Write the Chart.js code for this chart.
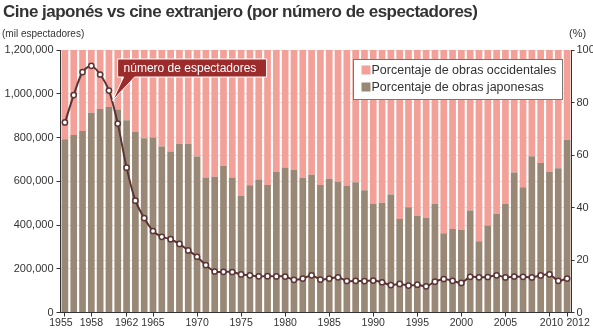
<!DOCTYPE html>
<html>
<head>
<meta charset="utf-8">
<script src="https://cdn.jsdelivr.net/npm/chart.js@4"></script>
<style>
  html, body { margin: 0; padding: 0; background: #fff; }
  #wrap { position: relative; width: 593px; height: 330px; font-family: "Liberation Sans", Arial, sans-serif; color: #333; }
  #title { position: absolute; left: 3px; top: 2px; font-size: 17px; font-weight: bold; letter-spacing: -0.5px; white-space: nowrap; }
  .unit { position: absolute; top: 28px; font-size: 10px; }
  canvas { position: absolute; left: 0; top: 0; }
</style>
</head>
<body>
<div id="wrap">
  <canvas id="cine-chart" width="593" height="330"></canvas>
  <div id="title">Cine japonés vs cine extranjero (por número de espectadores)</div>
  <div class="unit" style="left:2px">(mil espectadores)</div>
  <div class="unit" style="left:569px; font-size:11px; top:27px">(%)</div>
</div>
<script>
// Data

const years = [];
for (let y = 1955; y <= 2012; y++) years.push(String(y));

const shownYears = ["1955", "1958", "1962", "1965", "1970", "1975", "1980", "1985",
  "1990", "1995", "2000", "2005", "2010", "2012"];

// share of japanese films (%)
const japanesePct = [
  66.0, 67.6, 69.1, 76.1, 77.5, 78.3, 77.3, 73.2, 68.9, 66.4,
  66.7, 63.2, 61.3, 64.3, 64.2, 59.4, 51.4, 51.7, 55.9, 51.4,
  44.4, 48.5, 50.7, 48.6, 53.5, 55.2, 54.4, 51.2, 52.5, 48.6,
  51.0, 49.8, 48.2, 49.6, 46.6, 41.3, 41.8, 45.0, 35.6, 40.1,
  36.9, 36.1, 41.4, 30.2, 31.8, 31.5, 38.9, 27.1, 33.1, 37.5,
  41.3, 53.3, 47.7, 59.5, 57.0, 53.5, 55.0, 65.8
];

// share of western films (%)
const westernPct = japanesePct.map(v => Math.round((100 - v) * 10) / 10);

// spectators (thousands)
const spectators = [
  868912, 993875, 1098882, 1127452, 1088111, 1014364, 863430, 662279, 511121, 431454,
  372676, 345811, 335067, 313398, 283980, 254799, 216754, 187381, 185738, 185234,
  174020, 170019, 165155, 166042, 165088, 164422, 149450, 155280, 170043, 150527,
  155130, 160759, 143935, 144825, 143573, 146000, 138330, 125600, 130720, 122990,
  127040, 119575, 140719, 153102, 144762, 135390, 163280, 160767, 162347, 170092,
  160453, 164585, 163193, 160491, 169297, 174358, 144726, 155159
];

const leftTicks = [0, 200000, 400000, 600000, 800000, 1000000, 1200000];
const rightTicks = [0, 20, 40, 60, 80, 100];

const brown = "#9a8876";
const pink = "#f2a098";
const lineColor = "#5b3535";
const textColor = "#333";
const fontFamily = "'Liberation Sans', Arial, sans-serif";

// crowded year labels at the edges get pushed outwards a bit
const labelNudge = { "1955": -4, "2010": 2, "2012": 11 };

// Legend, callout and year labels drawn on the canvas
const overlayPlugin = {
  id: "overlay",
  afterDatasetsDraw(chart) {
    const ctx = chart.ctx;
    const area = chart.chartArea;
    const xs = chart.scales.x;
    const ys = chart.scales.y;

    // callout "número de espectadores"
    const x1 = xs.getPixelForValue(5), y1 = ys.getPixelForValue(spectators[5]);
    const x2 = xs.getPixelForValue(6), y2 = ys.getPixelForValue(spectators[6]);
    const tipX = x1 + (x2 - x1) * 0.3 + 1;
    const tipY = y1 + (y2 - y1) * 0.3;
    const bx = tipX + 5, by = area.top + 9, bw = 149, bh = 18;
    ctx.save();
    ctx.fillStyle = "#9c2b2b";
    ctx.strokeStyle = "#fff";
    ctx.lineWidth = 1;
    ctx.beginPath();
    ctx.moveTo(bx, by);
    ctx.lineTo(bx + bw, by);
    ctx.lineTo(bx + bw, by + bh);
    ctx.lineTo(bx + 17, by + bh);
    ctx.lineTo(tipX, tipY);
    ctx.lineTo(bx + 6, by + bh);
    ctx.lineTo(bx, by + bh);
    ctx.closePath();
    ctx.fill();
    ctx.stroke();
    ctx.fillStyle = "#fff";
    ctx.font = "12px " + fontFamily;
    ctx.textBaseline = "middle";
    ctx.fillText("número de espectadores", bx + 6, by + bh / 2 + 1);

    // legend box
    const lx = 353.5, ly = 59.5, lw = 209, lh = 40;
    ctx.fillStyle = "#fff";
    ctx.strokeStyle = "#777";
    ctx.fillRect(lx, ly, lw, lh);
    ctx.strokeRect(lx, ly, lw, lh);
    ctx.font = "12.5px " + fontFamily;
    const items = [["Porcentaje de obras occidentales", pink], ["Porcentaje de obras japonesas", brown]];
    items.forEach((it, i) => {
      const rowY = ly + 11 + i * 17;
      ctx.fillStyle = it[1];
      ctx.fillRect(lx + 8, rowY - 5, 9, 9);
      ctx.fillStyle = textColor;
      ctx.fillText(it[0], lx + 18, rowY);
    });

    // year labels
    ctx.font = "10.5px " + fontFamily;
    ctx.fillStyle = textColor;
    ctx.textAlign = "center";
    ctx.textBaseline = "top";
    years.forEach((y, i) => {
      if (!shownYears.includes(y)) return;
      const px = xs.getPixelForValue(i) + (labelNudge[y] || 0);
      ctx.fillText(y, px, area.bottom + 5);
    });
    ctx.restore();
  }
};

const ctx = document.getElementById("cine-chart").getContext("2d");

new Chart(ctx, {
  type: "bar",
  data: {
    labels: years,
    datasets: [
      {
        type: "line",
        label: "número de espectadores",
        data: spectators,
        yAxisID: "y",
        borderColor: lineColor,
        borderWidth: 2,
        pointBackgroundColor: "#fff",
        pointBorderColor: lineColor,
        pointBorderWidth: 1.5,
        pointRadius: 2.6,
        tension: 0.3,
        order: 0,
      },
      {
        label: "Porcentaje de obras japonesas",
        data: japanesePct,
        yAxisID: "y1",
        backgroundColor: brown,
        stack: "pct",
        barPercentage: 0.76,
        categoryPercentage: 1,
        order: 1,
      },
      {
        label: "Porcentaje de obras occidentales",
        data: westernPct,
        yAxisID: "y1",
        backgroundColor: pink,
        stack: "pct",
        barPercentage: 0.76,
        categoryPercentage: 1,
        order: 1,
      },
    ],
  },
  options: {
    responsive: false,
    animation: false,
    layout: { padding: { top: 50, left: 0, right: 0, bottom: 0 } },
    plugins: {
      legend: { display: false },
      tooltip: { enabled: false },
    },
    scales: {
      x: {
        stacked: true,
        offset: true,
        afterFit(scale) { scale.height = 17.5; },
        grid: {
          display: true,
          drawOnChartArea: false,
          offset: false,
          tickLength: 4,
          tickColor: (c) => (c.tick && shownYears.includes(years[c.tick.value]) ? textColor : "rgba(0,0,0,0)"),
        },
        border: { color: textColor },
        ticks: { display: false, autoSkip: false, maxRotation: 0 },
      },
      y: {
        position: "left",
        min: 0,
        max: 1200000,
        afterFit(scale) { scale.width = 60.5; },
        afterBuildTicks(scale) { scale.ticks = leftTicks.map(v => ({ value: v })); },
        grid: { color: "#e2e2e2", tickColor: textColor, tickLength: 4 },
        border: { color: textColor },
        ticks: {
          padding: 3,
          color: textColor,
          font: { size: 11, family: fontFamily },
          callback: v => v.toLocaleString("en-US"),
        },
      },
      y1: {
        position: "right",
        stacked: true,
        min: 0,
        max: 100,
        afterFit(scale) { scale.width = 21.5; },
        afterBuildTicks(scale) { scale.ticks = rightTicks.map(v => ({ value: v })); },
        grid: { color: "#e2e2e2", tickColor: textColor, tickLength: 3 },
        border: { color: textColor },
        ticks: {
          padding: 2,
          color: textColor,
          font: { size: 11, family: fontFamily },
        },
      },
    },
  },
  plugins: [overlayPlugin],
});
</script>
</body>
</html>
